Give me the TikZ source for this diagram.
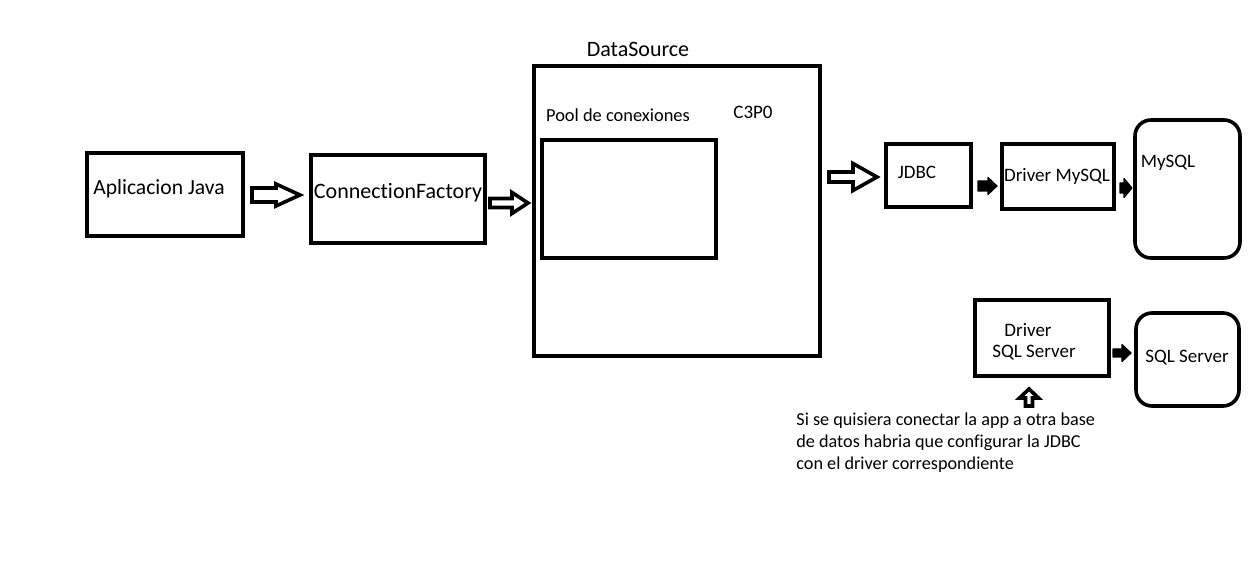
\documentclass[tikz,border=0pt]{standalone}
\usepackage{fontspec}
\setmainfont{Carlito}[Ligatures=NoCommon]
\usetikzlibrary{fit}

\tikzset{
  box/.style={draw, line width=1.8pt, inner sep=0pt},
  dbbox/.style={box, rounded corners=8pt},
  lbl/.style={inner sep=0pt, font=\fontsize{9.5}{11}\selectfont},
  biglbl/.style={inner sep=0pt, font=\fontsize{11}{13}\selectfont},
  hollowarrow/.style={draw, line width=1.8pt, fill=white, line join=miter},
  solidarrow/.style={draw, fill=black, line width=0.6pt, line join=round}
}
% block arrow: style, x, y, length, head length, head half, shaft half, rotation
\newcommand\blockarrow[8]{%
  \draw[#1, shift={(#2,#3)}, rotate=#8]
    (0,-#7) -- ({#4-#5},-#7) -- ({#4-#5},-#6) -- (#4,0)
    -- ({#4-#5},#6) -- ({#4-#5},#7) -- (0,#7) -- cycle;}

\begin{document}
\begin{tikzpicture}[x=0.5pt,y=-0.5pt]
\useasboundingbox (0,0) rectangle (1248,587);
% boxes
\node[box, fit={(87,153) (243,236)}] (app) {};
\node[box, fit={(311,155) (485,243)}] (cf) {};
\node[box, fit={(534,66) (820,356)}] (ds) {};
\node[box, fit={(542,140) (716,258)}] (pool) {};
\node[box, fit={(886,144) (971,207)}] (jdbc) {};
\node[box, fit={(1002,144) (1114,209)}] (drvmy) {};
\node[dbbox, fit={(1135,120) (1240,258)}] (mysql) {};
\node[box, fit={(975,300) (1109,376)}] (drvsql) {};
\node[dbbox, fit={(1136,313) (1239,406)}] (sqlsrv) {};
% texts
\node[lbl, font=\fontsize{10.8}{12}\selectfont] (appt) at (159,189) {Aplicacion Java};
\node[biglbl] (cft) at (398,193) {ConnectionFactory};
\node[biglbl] (dst) at (638,49) {DataSource};
\node[lbl, font=\fontsize{9.2}{11}\selectfont] (poolt) at (618,115) {Pool de conexiones};
\node[lbl] (c3p0) at (753,112) {C3P0};
\node[lbl] (jdbct) at (917,172) {JDBC};
\node[lbl] (drvmyt) at (1057,176) {Driver MySQL};
\node[lbl] (mysqlt) at (1168,163) {MySQL};
\node[lbl] (drvt) at (1028,330) {Driver};
\node[lbl] (drvsqlt) at (1034,353) {SQL Server};
\node[lbl] (sqlsrvt) at (1187,358) {SQL Server};
\node[lbl, font=\fontsize{9.1}{11}\selectfont, anchor=north west, align=left]
  (note) at (796,412) {Si se quisiera conectar la app a otra base\\
  de datos habria que configurar la JDBC\\
  con el driver correspondiente};
% block arrows
\blockarrow{hollowarrow}{252}{195}{48}{24}{11}{7}{0}
\blockarrow{hollowarrow}{490}{203}{38}{16}{10.5}{4.5}{0}
\blockarrow{hollowarrow}{829}{177}{48}{24}{13.5}{5}{0}
\blockarrow{hollowarrow}{1029}{406}{17}{9}{9.5}{3.5}{90}
\blockarrow{solidarrow}{978}{186}{19}{9}{8.5}{5}{0}
\blockarrow{solidarrow}{1120}{188}{12}{8}{9.5}{5}{0}
\blockarrow{solidarrow}{1113}{353}{18}{9}{8.5}{4}{0}
\end{tikzpicture}
\end{document}
